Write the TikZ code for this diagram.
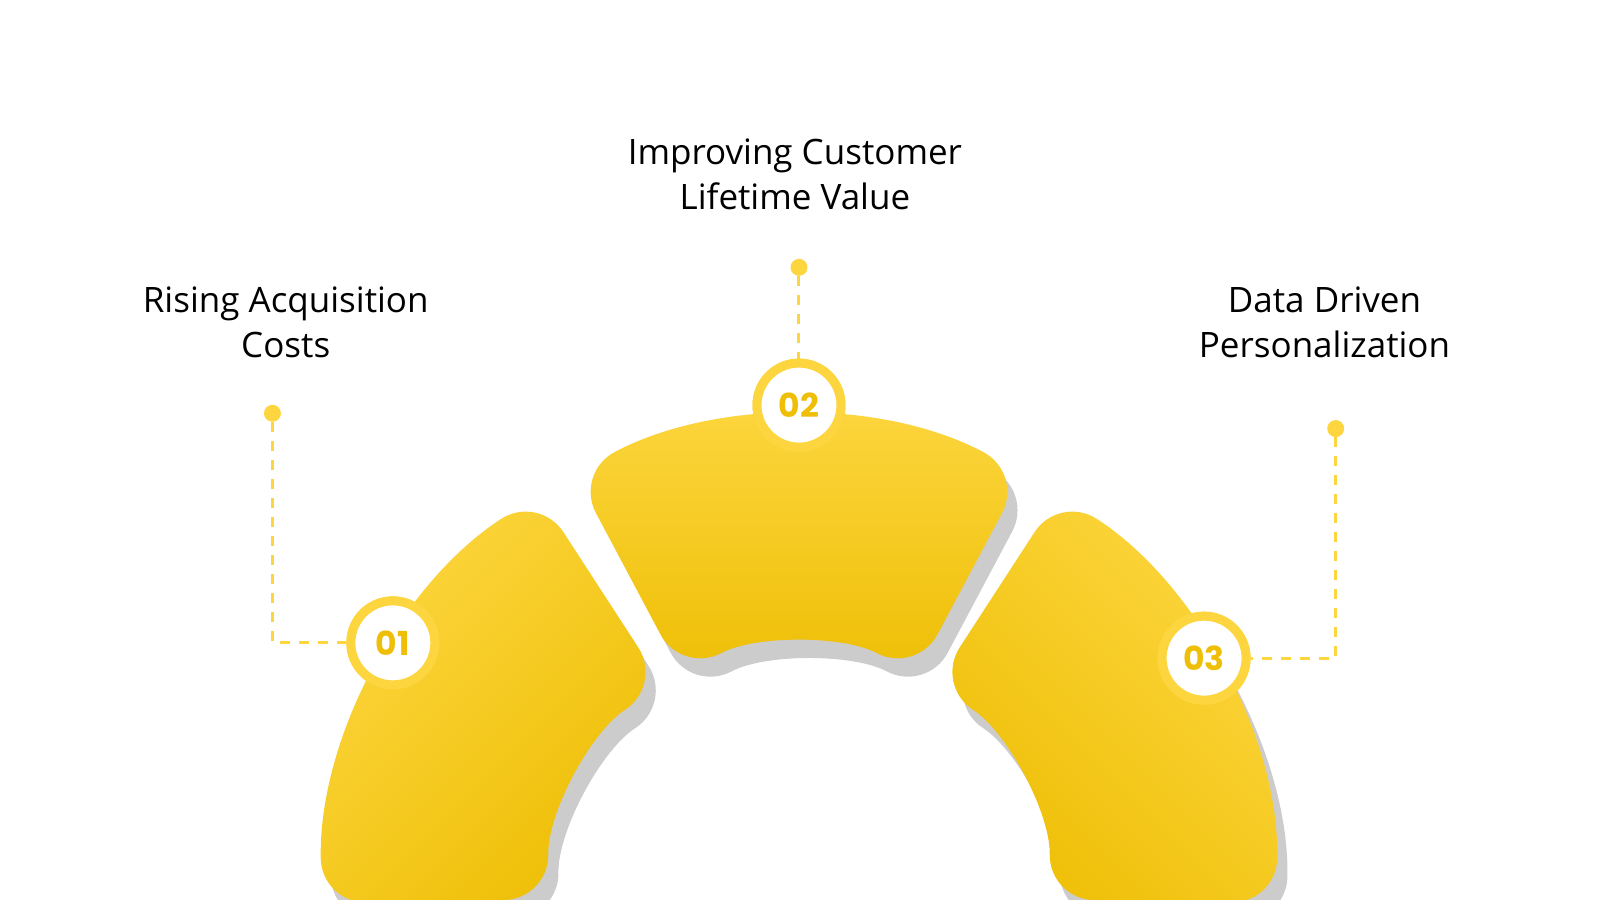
\documentclass[tikz,border=0pt]{standalone}
\usepackage{fontspec}
\setmainfont{Open Sans}
\newfontfamily\numfont{Poppins}
\usetikzlibrary{calc}
\definecolor{ylight}{HTML}{FDD63F}
\definecolor{ydark}{HTML}{EEBF06}
\definecolor{shadowgray}{HTML}{CCCCCC}
\tikzset{
  numring/.style={circle,draw=ylight,line width=9pt,fill=white,minimum size=84pt,
    font=\numfont\bfseries\fontsize{33}{33}\selectfont,text=ydark},
  leaddot/.style={circle,fill=ylight,minimum size=17pt,inner sep=0pt},
  leader/.style={ylight,line width=3pt,dash pattern=on 10pt off 9pt},
  label/.style={align=center,font=\fontsize{35}{45}\selectfont},
}
\begin{document}
\begin{tikzpicture}[x=1.0204pt,y=1.0204pt]
\useasboundingbox (0,0) rectangle (1568,882);
% shadows
\foreach \a/\b in {181/123,118/62,57/-1}{
  \fill[shadowgray,rounded corners=45pt,shift={(10,-18)}]
    ([shift={(783,5)}]\a:468) arc[start angle=\a,end angle=\b,radius=468]
    -- ([shift={(783,5)}]\b:245) arc[start angle=\b,end angle=\a,radius=245] -- cycle;
}
% segments
\shade[left color=ylight,right color=ydark,shading angle=45,rounded corners=45pt]
  ([shift={(783,5)}]181:468) arc[start angle=181,end angle=123,radius=468]
  -- ([shift={(783,5)}]123:245) arc[start angle=123,end angle=181,radius=245] -- cycle;
\shade[top color=ylight,bottom color=ydark,rounded corners=45pt]
  ([shift={(783,5)}]118:468) arc[start angle=118,end angle=62,radius=468]
  -- ([shift={(783,5)}]62:245) arc[start angle=62,end angle=118,radius=245] -- cycle;
\shade[left color=ylight,right color=ydark,shading angle=-45,rounded corners=45pt]
  ([shift={(783,5)}]57:468) arc[start angle=57,end angle=-1,radius=468]
  -- ([shift={(783,5)}]-1:245) arc[start angle=-1,end angle=57,radius=245] -- cycle;
% dots, rings, leaders
\node[leaddot] (d1) at (267,477) {};
\node[leaddot] (d2) at (783,620) {};
\node[leaddot] (d3) at (1309,462) {};
\node[numring] (n1) at (385,252) {01};
\node[numring] (n2) at (783,485) {02};
\node[numring] (n3) at (1180,237) {03};
\coordinate (k1) at (d1 |- n1);
\coordinate (k3) at (d3 |- n3);
\draw[leader] (d1) -- (k1) -- (n1.west);
\draw[leader] (d2) -- (n2.north);
\draw[leader] (d3) -- (k3) -- (n3.east);
% redraw rings over leaders
\node[numring] at (n1) {01};
\node[numring] at (n2) {02};
\node[numring] at (n3) {03};
% labels
\node[label] (t1) at (280,566) {Rising Acquisition\\Costs};
\node[label] (t2) at (779,711) {Improving Customer\\Lifetime Value};
\node[label] (t3) at (1298,566) {Data Driven\\Personalization};
\end{tikzpicture}
\end{document}
